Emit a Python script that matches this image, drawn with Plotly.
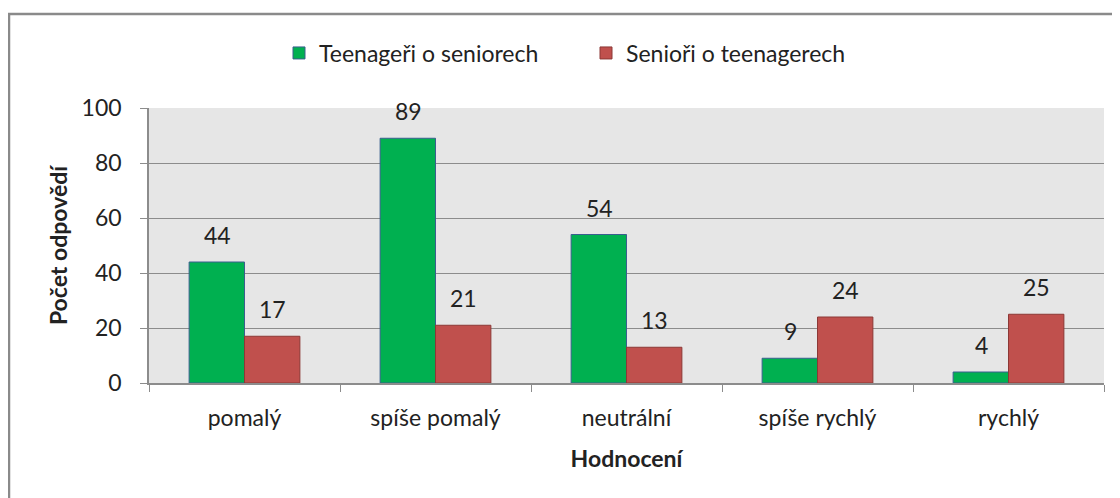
import plotly.graph_objects as go

categories = ['pomalý', 'spíše pomalý', 'neutrální', 'spíše rychlý', 'rychlý']
teen_vals = [44, 89, 54, 9, 4]
senior_vals = [17, 21, 13, 24, 25]
teen_name = 'Teenageři o seniorech'
senior_name = 'Senioři o teenagerech'

FONT = 'Lato, "Noto Sans", sans-serif'
TXT = '#222222'
FS = 23

# page body has an 8px margin, so the figure is drawn 8px in from the window edge
W, H = 1112, 490
L, R, T, B = 141, 16, 100, 115
pw, ph = W - L - R, H - T - B

fig = go.Figure()
fig.add_trace(go.Bar(x=categories, y=teen_vals, name=teen_name,
                     marker=dict(color='#00B050', line=dict(color='#3A5F8E', width=1))))
fig.add_trace(go.Bar(x=categories, y=senior_vals, name=senior_name,
                     marker=dict(color='#C0504D', line=dict(color='#8C3836', width=1))))

# value labels above the bars (Excel style, a bit higher than plotly's outside text)
anns = []
for vals, shift in ((teen_vals, -27.5), (senior_vals, 27.5)):
    for c, v in zip(categories, vals):
        anns.append(dict(x=c, y=v, xref='x', yref='y', text=str(v), showarrow=False,
                         xshift=shift, yshift=27, font=dict(family=FONT, size=FS, color=TXT)))

fig.update_layout(
    width=W, height=H,
    margin=dict(l=L, r=R, t=T, b=B),
    paper_bgcolor='white',
    plot_bgcolor='#E6E6E6',
    barmode='group',
    bargap=0.42,
    bargroupgap=0,
    font=dict(family=FONT, size=FS, color=TXT),
    showlegend=True,
    legend=dict(orientation='h', x=(578 - L) / pw, xanchor='center', y=1 + (T - 45) / ph,
                yanchor='middle', font=dict(family=FONT, size=FS, color=TXT),
                itemwidth=30, entrywidth=262, bgcolor='rgba(0,0,0,0)'),
    annotations=anns,
    shapes=[dict(type='rect', xref='paper', yref='paper',
                 x0=(1 - L) / pw, x1=(W + 20 - L) / pw,
                 y0=-(B + 20) / ph, y1=1 + (T - 6) / ph,
                 line=dict(color='#8A8A8A', width=2.5), fillcolor='rgba(0,0,0,0)', layer='below')],
)

fig.update_xaxes(
    showline=True, linecolor='#8C8C8C', linewidth=1.5,
    ticks='outside', ticklen=7, tickcolor='#8C8C8C', tickson='boundaries',
    ticklabelstandoff=14,
    title=dict(text='<b>Hodnocení</b>', font=dict(family=FONT, size=FS, color=TXT), standoff=21),
)
fig.update_yaxes(
    range=[0, 100], dtick=20,
    showgrid=True, gridcolor='#8C8C8C', gridwidth=1,
    showline=True, linecolor='#8C8C8C', linewidth=1.5,
    ticks='outside', ticklen=7, tickcolor='#8C8C8C',
    ticklabelstandoff=14, zeroline=False,
    title=dict(text='<b>Počet odpovědí</b>', font=dict(family=FONT, size=FS, color=TXT), standoff=8),
)

fig.write_html('out.html')
